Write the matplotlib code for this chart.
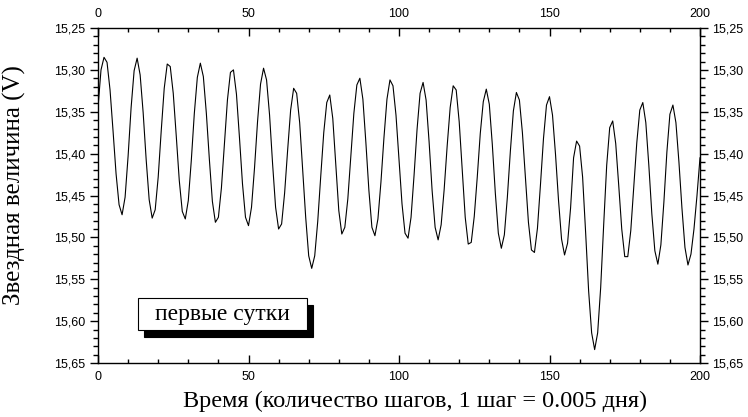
import matplotlib
matplotlib.use("Agg")
import matplotlib.pyplot as plt
from matplotlib.patches import Rectangle
from matplotlib.ticker import MultipleLocator, FuncFormatter

# ---- data ----
steps = list(range(0, 201))
magnitude = [
    15.345, 15.300, 15.285, 15.291, 15.324, 15.373, 15.424, 15.461, 15.473, 15.452,
    15.403, 15.345, 15.301, 15.286, 15.306, 15.351, 15.407, 15.455, 15.477, 15.467,
    15.428, 15.373, 15.322, 15.293, 15.296, 15.328, 15.379, 15.432, 15.469, 15.478,
    15.456, 15.408, 15.352, 15.309, 15.292, 15.308, 15.352, 15.407, 15.457, 15.482,
    15.476, 15.441, 15.388, 15.336, 15.303, 15.300, 15.329, 15.381, 15.436, 15.476,
    15.486, 15.464, 15.417, 15.362, 15.317, 15.298, 15.312, 15.354, 15.412, 15.464,
    15.490, 15.484, 15.447, 15.396, 15.348, 15.322, 15.328, 15.363, 15.420, 15.476,
    15.522, 15.537, 15.522, 15.481, 15.427, 15.375, 15.339, 15.330, 15.358, 15.413,
    15.468, 15.496, 15.488, 15.454, 15.403, 15.352, 15.318, 15.310, 15.335, 15.387,
    15.444, 15.488, 15.498, 15.478, 15.434, 15.381, 15.335, 15.312, 15.319, 15.354,
    15.407, 15.460, 15.495, 15.501, 15.476, 15.426, 15.371, 15.328, 15.315, 15.336,
    15.386, 15.444, 15.488, 15.503, 15.485, 15.443, 15.391, 15.345, 15.319, 15.324,
    15.362, 15.420, 15.476, 15.508, 15.506, 15.475, 15.428, 15.376, 15.338, 15.323,
    15.341, 15.389, 15.447, 15.495, 15.513, 15.497, 15.452, 15.397, 15.349, 15.327,
    15.336, 15.375, 15.429, 15.482, 15.515, 15.518, 15.489, 15.437, 15.382, 15.342,
    15.332, 15.354, 15.401, 15.456, 15.502, 15.521, 15.507, 15.465, 15.405, 15.385,
    15.391, 15.428, 15.494, 15.564, 15.614, 15.634, 15.614, 15.560, 15.485, 15.414,
    15.369, 15.361, 15.388, 15.438, 15.490, 15.523, 15.523, 15.492, 15.440, 15.387,
    15.348, 15.339, 15.363, 15.414, 15.472, 15.516, 15.532, 15.509, 15.458, 15.398,
    15.353, 15.342, 15.363, 15.410, 15.465, 15.512, 15.533, 15.520, 15.490, 15.450,
    15.405,
]
x_ticks = [0, 50, 100, 150, 200]
y_ticks = [15.25, 15.30, 15.35, 15.40, 15.45, 15.50, 15.55, 15.60, 15.65]
x_label = "Время (количество шагов, 1 шаг = 0.005 дня)"
y_label = "Звездная величина (V)"
legend_text = "первые сутки"

# ---- figure ----
W, H = 748, 417
fig = plt.figure(figsize=(W / 100, H / 100), dpi=100)
ax = fig.add_axes([98 / W, (H - 363) / H, 602 / W, 335 / H])

ax.plot(steps, magnitude, color="black", lw=0.8)

ax.set_xlim(0, 200)
ax.set_ylim(15.65, 15.25)

ax.xaxis.set_major_locator(MultipleLocator(50))
ax.xaxis.set_minor_locator(MultipleLocator(10))
ax.yaxis.set_major_locator(MultipleLocator(0.05))
ax.yaxis.set_minor_locator(MultipleLocator(0.01))
ax.set_xticks(x_ticks)
ax.set_yticks(y_ticks)
ax.yaxis.set_major_formatter(FuncFormatter(lambda v, p: f"{v:.2f}".replace(".", ",")))

tick_font = "Liberation Sans"
ax.tick_params(axis="x", which="both", direction="in", top=True, bottom=True,
               labeltop=True, labelbottom=True, labelsize=9, pad=6, width=1)
ax.tick_params(axis="x", which="major", length=5.5)
ax.tick_params(axis="x", which="minor", length=3.2)
ax.tick_params(axis="y", which="both", direction="out", left=True, right=True,
               labelleft=True, labelright=True, labelsize=9, pad=3, width=1)
ax.tick_params(axis="y", which="major", length=6)
ax.tick_params(axis="y", which="minor", length=3.8)
for lbl in ax.get_xticklabels() + ax.get_yticklabels():
    lbl.set_fontfamily(tick_font)
for s in ax.spines.values():
    s.set_linewidth(1.0)

serif = ["Liberation Serif", "DejaVu Serif"]
ax.set_xlabel(x_label, fontfamily=serif, fontsize=17.5)
ax.set_ylabel(y_label, fontfamily=serif, fontsize=18)
ax.xaxis.set_label_coords(0.527, -0.082)
ax.yaxis.set_label_coords(-0.12, 0.53)

# legend-like box with shadow
bx0, by0, bw, bh = 0.0664, 0.0985, 0.2806, 0.0955
ax.add_patch(Rectangle((bx0 + 0.010, by0 - 0.021), bw, bh, transform=ax.transAxes,
                       facecolor="black", edgecolor="black", lw=0.8, zorder=5))
ax.add_patch(Rectangle((bx0, by0), bw, bh, transform=ax.transAxes,
                       facecolor="white", edgecolor="black", lw=0.8, zorder=6))
ax.text(bx0 + bw / 2, by0 + bh / 2, legend_text, transform=ax.transAxes,
        ha="center", va="center", fontfamily=serif, fontsize=17, zorder=7)

fig.savefig("out.png", dpi=100)
